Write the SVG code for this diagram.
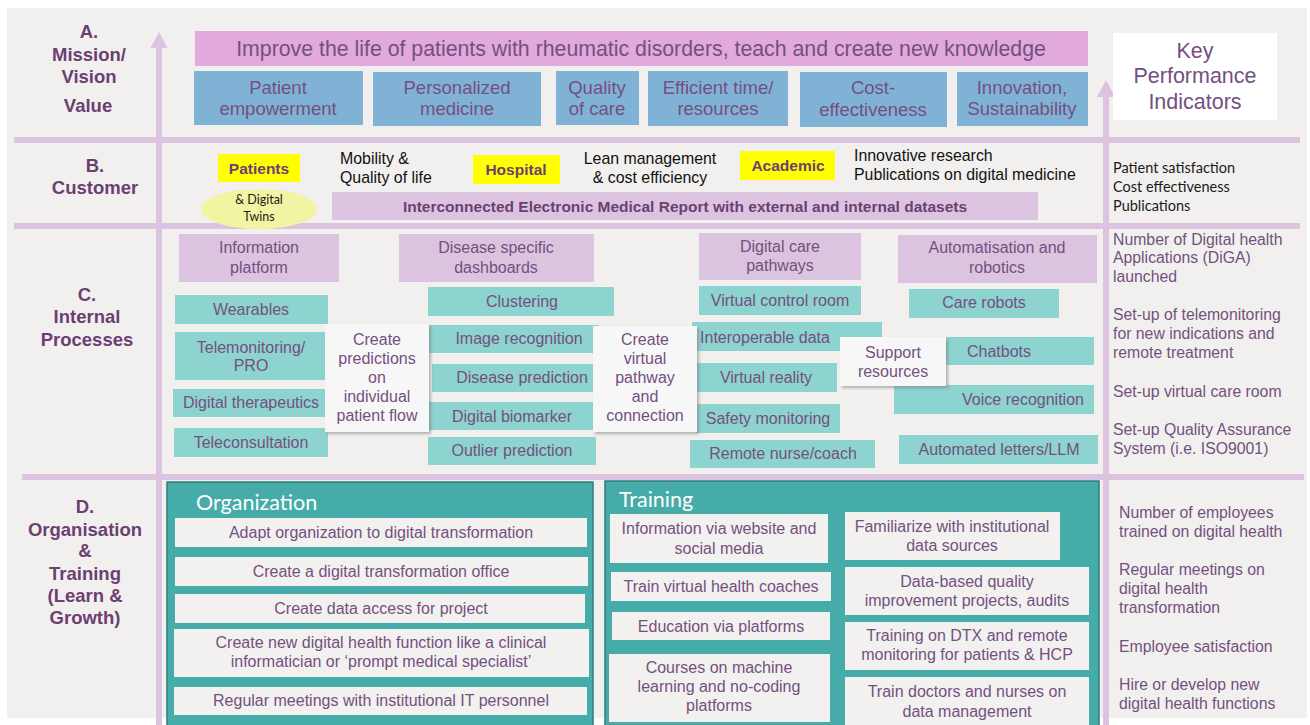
<svg xmlns="http://www.w3.org/2000/svg" width="1310" height="725" viewBox="0 0 1310 725">
<defs>
<style>
.lbl{font-family:"Liberation Sans",Arial,sans-serif;font-weight:bold;font-size:18.5px;fill:#6c3f72;text-anchor:middle}
.t{font-family:"Liberation Sans",Arial,sans-serif;fill:#74507f;text-anchor:middle}
.s16{font-size:16px}
.s155{font-size:16px}
.s185{font-size:18.5px}
.kpi{font-family:"Liberation Sans",Arial,sans-serif;font-size:15.8px;fill:#74507f}
.blk{font-family:"Liberation Sans",Arial,sans-serif;font-size:15.9px;fill:#111}
.cal{font-family:Lato,"Open Sans",sans-serif;fill:#1a1a1a}
.yb{font-family:"Liberation Sans",Arial,sans-serif;font-weight:bold;font-size:15.5px;fill:#6c3f72;text-anchor:middle}
.pink{fill:#e2a9dd}
.blue{fill:#80b2d6}
.lil{fill:#dcc4e0}
.teal{fill:#8dd3cf}
.yel{fill:#ffff00}
.row{fill:#f2f1f0}
.call{fill:#f7f7f7;filter:url(#sh)}
.panel{fill:#46aca9;stroke:#2f7d7b;stroke-width:1.5}
.ptitle{font-family:Lato,"Open Sans",sans-serif;font-size:21.5px;fill:#ffffff}
.axis{stroke:#dcc4e0;stroke-width:6;fill:none}
</style>
<filter id="sh" x="-10%" y="-10%" width="130%" height="130%">
<feDropShadow dx="2" dy="2" stdDeviation="1.5" flood-color="#7a7a7a" flood-opacity="0.55"/>
</filter>
</defs>
<rect x="0" y="0" width="1310" height="725" fill="#ffffff"/>
<rect x="7" y="8" width="1300" height="710" fill="#f1f0ee"/>

<g id="connectors">
<line class="axis" x1="14" y1="140" x2="1300" y2="140"/>
<line class="axis" x1="14" y1="226" x2="1300" y2="226"/>
<line class="axis" x1="22" y1="477" x2="1304" y2="477"/>
<line class="axis" x1="159" y1="46" x2="159" y2="725"/>
<polygon points="159,32 150.5,48 167.5,48" fill="#dcc4e0"/>
<line class="axis" x1="1106" y1="95" x2="1106" y2="725"/>
<polygon points="1106,80 1097,97 1115,97" fill="#dcc4e0"/>
</g>

<g id="labels">
<text class="lbl" x="89" y="38">A.</text>
<text class="lbl" x="89" y="61">Mission/</text>
<text class="lbl" x="89" y="83">Vision</text>
<text class="lbl" x="88" y="112">Value</text>
<text class="lbl" x="95" y="172">B.</text>
<text class="lbl" x="95" y="194">Customer</text>
<text class="lbl" x="87" y="301">C.</text>
<text class="lbl" x="87" y="323">Internal</text>
<text class="lbl" x="87" y="346">Processes</text>
<text class="lbl" x="85" y="513">D.</text>
<text class="lbl" x="85" y="536">Organisation</text>
<text class="lbl" x="85" y="557">&amp;</text>
<text class="lbl" x="85" y="580">Training</text>
<text class="lbl" x="85" y="602">(Learn &amp;</text>
<text class="lbl" x="85" y="624">Growth)</text>
</g>

<g id="mission">
<rect class="pink" x="195" y="31" width="893" height="35"/>
<text class="t" x="641" y="56" font-size="21.3">Improve the life of patients with rheumatic disorders, teach and create new knowledge</text>
</g>
<g id="v-empowerment"><rect class="blue" x="194" y="71" width="169" height="54"/><text class="t s185" x="278" y="94">Patient</text><text class="t s185" x="278" y="115">empowerment</text></g>
<g id="v-personalized"><rect class="blue" x="373" y="72" width="168" height="54"/><text class="t s185" x="457" y="94">Personalized</text><text class="t s185" x="457" y="115">medicine</text></g>
<g id="v-quality"><rect class="blue" x="556" y="71" width="83" height="54"/><text class="t s185" x="597" y="94">Quality</text><text class="t s185" x="597" y="115">of care</text></g>
<g id="v-efficient"><rect class="blue" x="648" y="71" width="140" height="55"/><text class="t s185" x="718" y="94">Efficient time/</text><text class="t s185" x="718" y="115">resources</text></g>
<g id="v-cost"><rect class="blue" x="800" y="72" width="147" height="55"/><text class="t s185" x="873" y="94">Cost-</text><text class="t s185" x="873" y="116">effectiveness</text></g>
<g id="v-innovation"><rect class="blue" x="957" y="72" width="131" height="54"/><text class="t s185" x="1022" y="94">Innovation,</text><text class="t s185" x="1022" y="115">Sustainability</text></g>

<g id="kpi-title">
<rect x="1113" y="33" width="164" height="87" fill="#ffffff"/>
<text class="t" x="1195" y="58" font-size="21.5">Key</text>
<text class="t" x="1195" y="83" font-size="21.5">Performance</text>
<text class="t" x="1195" y="109" font-size="21.5">Indicators</text>
</g>

<g id="b-patients">
<rect class="yel" x="218" y="154" width="82" height="28"/>
<text class="yb" x="259" y="174">Patients</text>
</g>
<g id="b-twins">
<ellipse cx="259" cy="209" rx="58" ry="20" fill="#f1f4a2"/>
<text class="cal" x="259" y="204" font-size="12.5" text-anchor="middle">&amp; Digital</text>
<text class="cal" x="259" y="221" font-size="12.5" text-anchor="middle">Twins</text>
</g>
<g id="b-mobility">
<text class="blk" x="340" y="164">Mobility &amp;</text>
<text class="blk" x="340" y="183">Quality of life</text>
</g>
<g id="b-hospital">
<rect class="yel" x="473" y="155" width="87" height="29"/>
<text class="yb" x="516" y="175">Hospital</text>
</g>
<g id="b-lean">
<text class="blk" x="650" y="164" text-anchor="middle">Lean management</text>
<text class="blk" x="650" y="183" text-anchor="middle">&amp; cost efficiency</text>
</g>
<g id="b-academic">
<rect class="yel" x="740" y="151" width="95" height="29"/>
<text class="yb" x="788" y="171">Academic</text>
</g>
<g id="b-research">
<text class="blk" x="854" y="161">Innovative research</text>
<text class="blk" x="854" y="180">Publications on digital medicine</text>
</g>
<g id="b-emr">
<rect class="lil" x="332" y="192" width="706" height="28"/>
<text class="yb" x="685" y="212" font-size="15">Interconnected Electronic Medical Report with external and internal datasets</text>
</g>
<g id="kpi-b">
<text class="cal" x="1113" y="173" font-size="14.5">Patient satisfaction</text>
<text class="cal" x="1113" y="192" font-size="14.5">Cost effectiveness</text>
<text class="cal" x="1113" y="211" font-size="14.5">Publications</text>
</g>

<g id="c-info"><rect class="lil" x="179" y="234" width="160" height="48"/><text class="t s16" x="259" y="253">Information</text><text class="t s16" x="259" y="273">platform</text></g>
<g id="c-dash"><rect class="lil" x="399" y="234" width="195" height="48"/><text class="t s16" x="496" y="253">Disease specific</text><text class="t s16" x="496" y="273">dashboards</text></g>
<g id="c-pathways"><rect class="lil" x="699" y="233" width="162" height="47"/><text class="t s16" x="780" y="252">Digital care</text><text class="t s16" x="780" y="271">pathways</text></g>
<g id="c-auto"><rect class="lil" x="898" y="235" width="199" height="48"/><text class="t s16" x="997" y="253">Automatisation and</text><text class="t s16" x="997" y="273">robotics</text></g>

<g id="c-wearables"><rect class="teal" x="175" y="295" width="153" height="29"/><text class="t s16" x="251" y="315">Wearables</text></g>
<g id="c-telemon"><rect class="teal" x="175" y="332" width="150" height="48"/><text class="t s16" x="251" y="353">Telemonitoring/</text><text class="t s16" x="251" y="371">PRO</text></g>
<g id="c-dtx"><rect class="teal" x="173" y="389" width="152" height="28"/><text class="t s16" x="251" y="408">Digital therapeutics</text></g>
<g id="c-telecons"><rect class="teal" x="174" y="428" width="154" height="29"/><text class="t s16" x="251" y="448">Teleconsultation</text></g>

<g id="c-clustering"><rect class="teal" x="428" y="287" width="186" height="29"/><text class="t s16" x="522" y="307">Clustering</text></g>
<g id="c-image"><rect class="teal" x="429" y="325" width="170" height="28"/><text class="t s16" x="519" y="344">Image recognition</text></g>
<g id="c-disease"><rect class="teal" x="432" y="364" width="164" height="28"/><text class="t s16" x="522" y="383">Disease prediction</text></g>
<g id="c-biomarker"><rect class="teal" x="429" y="402" width="166" height="28"/><text class="t s16" x="512" y="422">Digital biomarker</text></g>
<g id="c-outlier"><rect class="teal" x="428" y="437" width="168" height="28"/><text class="t s16" x="512" y="456">Outlier prediction</text></g>

<g id="c-control"><rect class="teal" x="699" y="286" width="162" height="29"/><text class="t s16" x="780" y="306">Virtual control room</text></g>
<g id="c-interop"><rect class="teal" x="692" y="322" width="190" height="29"/><text class="t s16" x="765" y="343">Interoperable data</text></g>
<g id="c-vr"><rect class="teal" x="694" y="363" width="143" height="29"/><text class="t s16" x="766" y="383">Virtual reality</text></g>
<g id="c-safety"><rect class="teal" x="696" y="404" width="144" height="29"/><text class="t s16" x="768" y="424">Safety monitoring</text></g>
<g id="c-remote"><rect class="teal" x="690" y="440" width="185" height="28"/><text class="t s16" x="783" y="459">Remote nurse/coach</text></g>

<g id="c-care"><rect class="teal" x="909" y="289" width="150" height="29"/><text class="t s16" x="984" y="308">Care robots</text></g>
<g id="c-chatbots"><rect class="teal" x="920" y="337" width="174" height="28"/><text class="t s16" x="999" y="357">Chatbots</text></g>
<g id="c-voice"><rect class="teal" x="894" y="385" width="200" height="29"/><text class="t s16" x="1023" y="405">Voice recognition</text></g>
<g id="c-letters"><rect class="teal" x="899" y="435" width="199" height="29"/><text class="t s16" x="999" y="455">Automated letters/LLM</text></g>

<g id="c-predictions">
<rect class="call" x="325" y="324" width="104" height="108"/>
<text class="t s16" x="377" y="345">Create</text>
<text class="t s16" x="377" y="364">predictions</text>
<text class="t s16" x="377" y="383">on</text>
<text class="t s16" x="377" y="402">individual</text>
<text class="t s16" x="377" y="421">patient flow</text>
</g>
<g id="c-virtual">
<rect class="call" x="593" y="326" width="104" height="106"/>
<text class="t s16" x="645" y="345">Create</text>
<text class="t s16" x="645" y="364">virtual</text>
<text class="t s16" x="645" y="383">pathway</text>
<text class="t s16" x="645" y="402">and</text>
<text class="t s16" x="645" y="421">connection</text>
</g>
<g id="c-support">
<rect class="call" x="840" y="337" width="106" height="49"/>
<text class="t s16" x="893" y="358">Support</text>
<text class="t s16" x="893" y="377">resources</text>
</g>

<g id="kpi-c">
<text class="kpi" x="1113" y="245">Number of Digital health</text>
<text class="kpi" x="1113" y="263">Applications (DiGA)</text>
<text class="kpi" x="1113" y="282">launched</text>
<text class="kpi" x="1113" y="320">Set-up of telemonitoring</text>
<text class="kpi" x="1113" y="339">for new indications and</text>
<text class="kpi" x="1113" y="358">remote treatment</text>
<text class="kpi" x="1113" y="397">Set-up virtual care room</text>
<text class="kpi" x="1113" y="435">Set-up Quality Assurance</text>
<text class="kpi" x="1113" y="454">System (i.e. ISO9001)</text>
</g>

<g id="d-organization">
<rect class="panel" x="167" y="482" width="426" height="250"/>
<text class="ptitle" x="196" y="510">Organization</text>
</g>
<g id="d-adapt"><rect class="row" x="175" y="518" width="412" height="29"/><text class="t s155" x="381" y="538">Adapt organization to digital transformation</text></g>
<g id="d-office"><rect class="row" x="175" y="557" width="413" height="29"/><text class="t s155" x="381" y="577">Create a digital transformation office</text></g>
<g id="d-access"><rect class="row" x="175" y="594" width="410" height="29"/><text class="t s155" x="381" y="614">Create data access for project</text></g>
<g id="d-function"><rect class="row" x="174" y="629" width="415" height="48"/><text class="t s155" x="381" y="648">Create new digital health function like a clinical</text><text class="t s155" x="381" y="667">informatician or ‘prompt medical specialist’</text></g>
<g id="d-meetings"><rect class="row" x="174" y="687" width="413" height="28"/><text class="t s155" x="381" y="706">Regular meetings with institutional IT personnel</text></g>

<g id="d-training">
<rect class="panel" x="605" y="481" width="494" height="250"/>
<text class="ptitle" x="619" y="507">Training</text>
</g>
<g id="d-website"><rect class="row" x="610" y="514" width="218" height="49"/><text class="t s155" x="719" y="534">Information via website and</text><text class="t s155" x="719" y="554">social media</text></g>
<g id="d-coaches"><rect class="row" x="611" y="572" width="220" height="29"/><text class="t s155" x="721" y="592">Train virtual health coaches</text></g>
<g id="d-education"><rect class="row" x="612" y="612" width="218" height="28"/><text class="t s155" x="721" y="632">Education via platforms</text></g>
<g id="d-courses"><rect class="row" x="609" y="654" width="221" height="68"/><text class="t s155" x="719" y="673">Courses on machine</text><text class="t s155" x="719" y="692">learning and no-coding</text><text class="t s155" x="719" y="711">platforms</text></g>
<g id="d-familiarize"><rect class="row" x="845" y="512" width="215" height="48"/><text class="t s155" x="952" y="532">Familiarize with institutional</text><text class="t s155" x="952" y="551">data sources</text></g>
<g id="d-quality"><rect class="row" x="845" y="567" width="244" height="48"/><text class="t s155" x="967" y="587">Data-based quality</text><text class="t s155" x="967" y="606">improvement projects, audits</text></g>
<g id="d-dtx"><rect class="row" x="845" y="622" width="244" height="48"/><text class="t s155" x="967" y="641">Training on DTX and remote</text><text class="t s155" x="967" y="660">monitoring for patients &amp; HCP</text></g>
<g id="d-doctors"><rect class="row" x="845" y="677" width="244" height="55"/><text class="t s155" x="967" y="697">Train doctors and nurses on</text><text class="t s155" x="967" y="717">data management</text></g>

<g id="kpi-d">
<text class="kpi" x="1119" y="518">Number of employees</text>
<text class="kpi" x="1119" y="537">trained on digital health</text>
<text class="kpi" x="1119" y="575">Regular meetings on</text>
<text class="kpi" x="1119" y="594">digital health</text>
<text class="kpi" x="1119" y="613">transformation</text>
<text class="kpi" x="1119" y="652">Employee satisfaction</text>
<text class="kpi" x="1119" y="690">Hire or develop new</text>
<text class="kpi" x="1119" y="709">digital health functions</text>
</g>
</svg>
